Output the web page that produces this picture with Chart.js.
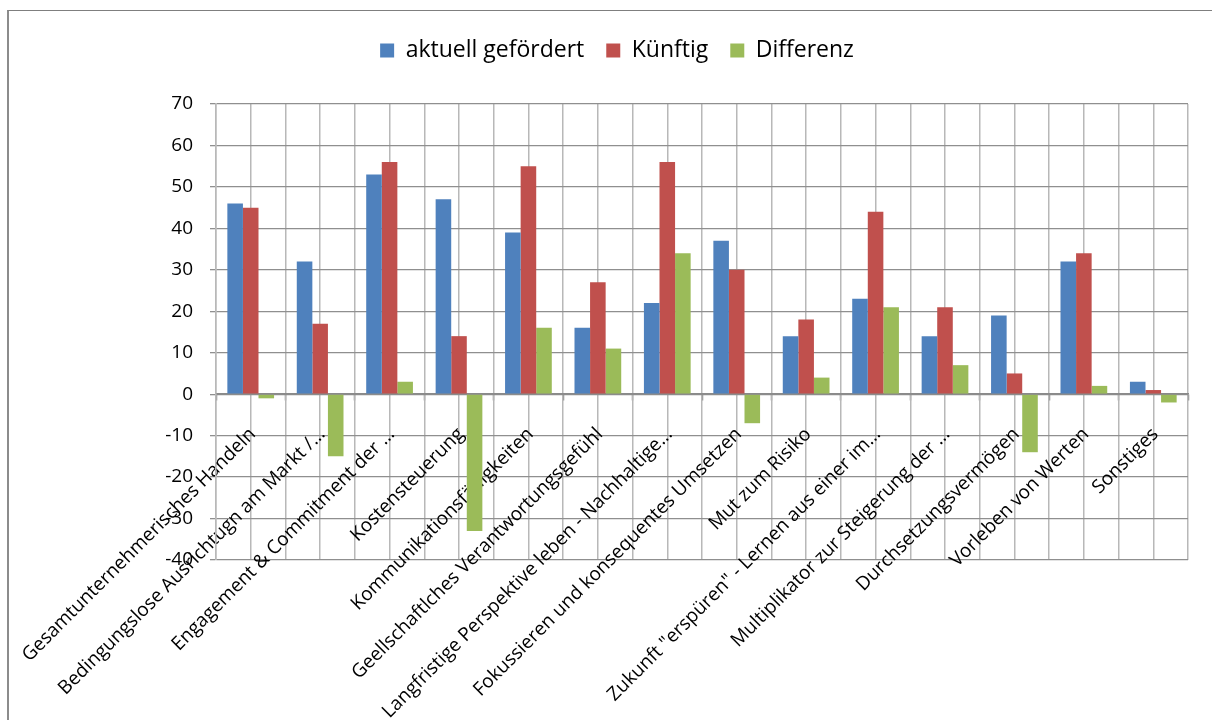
<!DOCTYPE html>
<html lang="de">
<head>
<meta charset="utf-8">
<title>aktuell gefördert / Künftig / Differenz</title>
<script src="https://cdn.jsdelivr.net/npm/chart.js@4/dist/chart.umd.min.js"></script>
<style>
  html, body { margin: 0; padding: 0; background: #ffffff; }
  #frame {
    position: absolute; left: 7px; top: 10px; width: 1400px; height: 900px;
    border-left: 2px solid #8c8c8c; border-top: 1px solid #7f7f7f;
  }
  #wrap { position: absolute; left: 0; top: 0; width: 1212px; height: 720px; }
</style>
</head>
<body>
<div id="frame"></div>
<div id="wrap"><canvas id="chart" width="1212" height="720"></canvas></div>
<script>
// Kompetenzen (Kategorien der x-Achse)
const categories = [
  'Gesamtunternehmerisches Handeln',
  'Bedingungslose Ausrichtugn am Markt /…',
  'Engagement & Commitment der …',
  'Kostensteuerung',
  'Kommunikationsfähigkeiten',
  'Geellschaftlches Verantwortungsgefühl',
  'Langfristige Perspektive leben - Nachhaltige…',
  'Fokussieren und konsequentes Umsetzen',
  'Mut zum Risiko',
  'Zukunft "erspüren" - Lernen aus einer im…',
  'Multiplikator zur Steigerung der …',
  'Durchsetzungsvermögen',
  'Vorleben von Werten',
  'Sonstiges'
];

// Werte je Reihe
const aktuellGefoerdert = [46, 32, 53, 47, 39, 16, 22, 37, 14, 23, 14, 19, 32, 3];
const kuenftig          = [45, 17, 56, 14, 55, 27, 56, 30, 18, 44, 21,  5, 34, 1];
const differenz         = [-1, -15, 3, -33, 16, 11, 34, -7, 4, 21, 7, -14, 2, -2];

// Achsenbereich der y-Achse
const yMin = -40;
const yMax = 70;
const yStep = 10;

const FONT = '"Open Sans", "Liberation Sans", sans-serif';

// Etwas Abstand zwischen Legende und Diagrammfläche
const legendSpacing = {
  id: 'legendSpacing',
  beforeInit(chart) {
    const origFit = chart.legend.fit;
    chart.legend.fit = function () {
      origFit.bind(chart.legend)();
      this.height += 32;
    };
  }
};

new Chart(document.getElementById('chart'), {
  type: 'bar',
  data: {
    labels: categories,
    datasets: [
      { label: 'aktuell gefördert', data: aktuellGefoerdert, backgroundColor: '#4F81BD' },
      { label: 'Künftig',           data: kuenftig,          backgroundColor: '#C0504D' },
      { label: 'Differenz',         data: differenz,         backgroundColor: '#9BBB59' }
    ]
  },
  options: {
    responsive: false,
    animation: false,
    layout: { padding: { left: 46, right: 24, top: 17, bottom: 160 } },
    datasets: {
      bar: { categoryPercentage: 0.673, barPercentage: 1.0, borderWidth: 0 }
    },
    plugins: {
      legend: {
        position: 'top',
        align: 'center',
        labels: {
          font: { family: FONT, size: 23 },
          color: '#000000',
          boxWidth: 14,
          boxHeight: 14,
          padding: 22
        }
      },
      tooltip: { enabled: false }
    },
    scales: {
      // Kategorienbeschriftung an der Nulllinie
      x: {
        type: 'category',
        position: { y: 0 },
        offset: true,
        z: 1,
        // die schrägen Beschriftungen dürfen links über die Diagrammfläche hinausragen
        afterFit(scale) { scale.paddingLeft = 0; scale.paddingRight = 0; },
        grid: {
          display: true,
          drawOnChartArea: false,
          drawTicks: true,
          tickLength: 6,
          offset: true,
          tickColor: '#8a8a8a',
          tickWidth: 1.5
        },
        border: { display: true, color: '#8a8a8a', width: 1.5 },
        ticks: {
          autoSkip: false,
          maxRotation: 45,
          minRotation: 45,
          labelOffset: 2,
          padding: 23,
          color: '#000000',
          font: { family: FONT, size: 19 }
        }
      },
      // Gitterlinien an den Kategoriegrenzen
      xg: {
        type: 'category',
        labels: categories,
        position: 'bottom',
        offset: true,
        grid: { display: true, offset: true, drawTicks: false, color: '#b8b8b8', lineWidth: 1.5 },
        border: { display: false },
        ticks: { display: false }
      },
      // Gitterlinien in der Kategoriemitte
      xc: {
        type: 'category',
        labels: categories,
        position: 'bottom',
        offset: true,
        grid: { display: true, offset: false, drawTicks: false, color: '#b8b8b8', lineWidth: 1.5 },
        border: { display: false },
        ticks: { display: false }
      },
      y: {
        min: yMin,
        max: yMax,
        afterFit(scale) { scale.width = 170; },
        grid: { color: '#8f8f8f', lineWidth: 1.3, tickLength: 6, drawTicks: true },
        border: { display: true, color: '#b8b8b8', width: 1.5 },
        ticks: {
          stepSize: yStep,
          padding: 17,
          color: '#000000',
          font: { family: FONT, size: 19 }
        }
      }
    }
  },
  plugins: [legendSpacing]
});
</script>
</body>
</html>
